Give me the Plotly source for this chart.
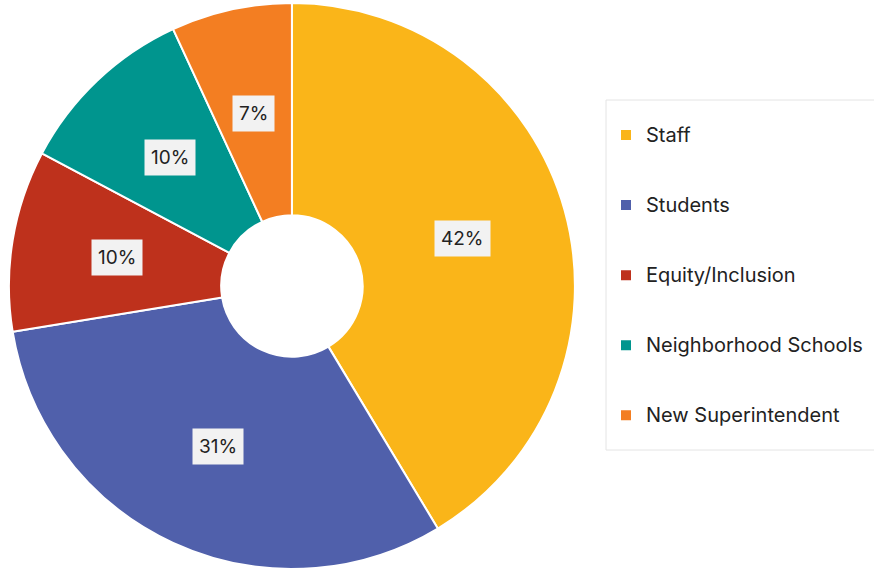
import math
import plotly.graph_objects as go

# ---- data ----
categories = ["Staff", "Students", "Equity/Inclusion", "Neighborhood Schools", "New Superintendent"]
counts = [12, 9, 3, 3, 2]
pct_labels = ["42%", "31%", "10%", "10%", "7%"]
colors = ["#FAB519", "#5060AB", "#BE311C", "#00958E", "#F37E22"]

# ---- layout geometry ----
W, H = 874, 569
M = dict(l=0, r=0, t=3, b=0)
dom_x = [0, 0.668]
dom_y = [0, 1]
hole = 0.25
FONT = "Inter, 'Open Sans', sans-serif"
LEG_BASE = 17.2   # sets legend line spacing
LEG_TEXT = 20     # visible legend text size

# legend text padded to three lines so the symbol sits on the middle line
legend_names = [
    "&nbsp;<br><span style='font-size:%spx'>%s</span><br>&nbsp;" % (LEG_TEXT, c)
    for c in categories
]

fig = go.Figure(go.Pie(
    labels=legend_names,
    values=counts,
    sort=False,
    direction="clockwise",
    rotation=0,
    hole=hole,
    marker=dict(colors=colors, line=dict(color="white", width=2)),
    textinfo="none",
    hoverinfo="skip",
    domain=dict(x=dom_x, y=dom_y),
))

# label annotations placed at slice mid-angles (derived from the data)
pw = W - M["l"] - M["r"]
ph = H - M["t"] - M["b"]
R = min(pw * (dom_x[1] - dom_x[0]), ph * (dom_y[1] - dom_y[0])) / 2
cx = (dom_x[0] + dom_x[1]) / 2
cy = (dom_y[0] + dom_y[1]) / 2
rl = R * (1 + hole) / 2
total = sum(counts)
cum = 0
for v, lab in zip(counts, pct_labels):
    mid = (cum + v / 2) / total * 2 * math.pi
    cum += v
    fig.add_annotation(
        x=cx + rl * math.sin(mid) / pw,
        y=cy + rl * math.cos(mid) / ph,
        xref="paper", yref="paper",
        xanchor="center", yanchor="middle",
        text=lab, showarrow=False,
        font=dict(family=FONT, size=19, color="#222222"),
        bgcolor="#F2F2F2", borderpad=6,
    )

# legend frame
fig.add_shape(
    type="rect", xref="paper", yref="paper",
    x0=606 / pw, x1=1.02,
    y0=1 - (450 - M["t"]) / ph, y1=1 - (100 - M["t"]) / ph,
    line=dict(color="#E4E4E4", width=1), fillcolor="rgba(0,0,0,0)",
    layer="below",
)

fig.update_layout(
    width=W, height=H,
    margin=M,
    paper_bgcolor="white",
    plot_bgcolor="white",
    showlegend=True,
    legend=dict(
        x=606 / pw, xanchor="left",
        y=1 - (95 - M["t"]) / ph, yanchor="top",
        font=dict(family=FONT, size=LEG_BASE, color="#222222"),
        bgcolor="rgba(0,0,0,0)",
        borderwidth=0,
        valign="middle",
        traceorder="normal",
    ),
)

fig.write_html("out.html", config={"displayModeBar": False},
               post_script="document.body.style.margin='0px';")
